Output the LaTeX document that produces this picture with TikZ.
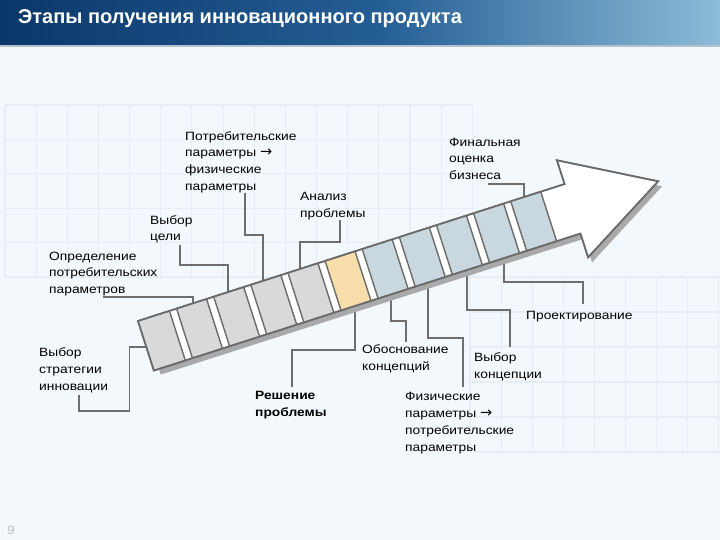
\documentclass[tikz,border=0pt]{standalone}
\usepackage{fontspec}
\setmainfont{Liberation Sans}
\newfontfamily\lblfont{Liberation Sans}[FakeStretch=1.15]
\newfontfamily\titlefont{Liberation Sans}
\newfontfamily\arrfont{DejaVu Sans}
\newcommand{\rarr}{{\arrfont\fontsize{14.5}{16.7}\selectfont →}}
\definecolor{bgc}{HTML}{F2F8FC}
\definecolor{gridc}{HTML}{E7EEF3}
\definecolor{outc}{HTML}{6B6B6B}
\definecolor{shadc}{HTML}{A9A9A9}
\definecolor{tgray}{HTML}{D9D9D9}
\definecolor{tyel}{HTML}{F8DEAA}
\definecolor{tblue}{HTML}{C8D8DE}
\definecolor{leadc}{HTML}{6E6E6E}
\definecolor{barA}{HTML}{0B376A}
\definecolor{barB}{HTML}{245E95}
\definecolor{barC}{HTML}{8DBCD8}
\definecolor{barline}{HTML}{B3C1CC}
\definecolor{pgnum}{HTML}{B4BCC4}
\begin{document}
\begin{tikzpicture}[x=1pt,y=-1pt,
  lbl/.style={anchor=north west,inner sep=0pt,align=left,text=black,
    font=\lblfont\fontsize{12}{16.7}\selectfont},
  leader/.style={draw=leadc,line width=1.6pt},
  tilebox/.style={draw=outc,line width=1.4pt,line join=round},
  gridline/.style={draw=gridc,line width=1.1pt}]
\useasboundingbox (0,0) rectangle (720,540);
\fill[bgc] (0,0) rectangle (720,540);
% grid
\foreach \i in {0,...,15} \draw[gridline] ({5+31.15*\i},105) -- ({5+31.15*\i},277);
\foreach \i in {0,...,5} \draw[gridline] (5,{105+34.4*\i}) -- (472,{105+34.4*\i});
\foreach \i in {0,...,8} \draw[gridline] ({470+31.1*\i},277) -- ({470+31.1*\i},452);
\foreach \i in {0,...,5} \draw[gridline] (470,{277+35*\i}) -- (720,{277+35*\i});
% title bar
\shade[left color=barA,right color=barB] (0,0) rectangle (380,45);
\shade[left color=barB,right color=barC] (379.5,0) rectangle (720,45);
\fill[barline] (0,45) rectangle (720,47.5);
\node[anchor=base west,inner sep=0pt,text=white,
  font=\titlefont\bfseries\fontsize{20}{22}\selectfont] (title) at (18,24)
  {Этапы получения инновационного продукта};
\node[anchor=base west,inner sep=0pt,text=pgnum,font=\lblfont\fontsize{12}{14}\selectfont] (pg) at (7,534) {9};
% attachment points on the band
\begin{scope}[shift={(138pt,-321pt)},x={(0.9521pt,0.3057pt)},y={(0.3057pt,-0.9521pt)}]
  \coordinate (a1) at (131.3,0);
  \coordinate (a2) at (170.2,0);
  \coordinate (a3) at (94.5,0);
  \coordinate (a4) at (57.8,0);
  \coordinate (a5) at (405.4,0);
  \coordinate (a6) at (367.7,52);
  \coordinate (a7) at (328.9,52);
  \coordinate (a8) at (287.9,52);
  \coordinate (a9) at (249.0,52);
  \coordinate (a10) at (211.1,52);
  \coordinate (a11) at (0,27);
\end{scope}
% labels
\node[lbl] (L1) at (185,130) {\rule{0pt}{10pt}Потребительские\\параметры \rarr\\физические\\параметры};
\node[lbl] (L2) at (300,190.5) {\rule{0pt}{10pt}Анализ\\проблемы};
\node[lbl] (L3) at (150,214) {\rule{0pt}{10pt}Выбор\\цели};
\node[lbl] (L4) at (49,250) {\rule{0pt}{10pt}Определение\\потребительских\\параметров};
\node[lbl] (L5) at (449,136) {\rule{0pt}{10pt}Финальная\\оценка\\бизнеса};
\node[lbl] (L6) at (526,309.3) {\rule{0pt}{10pt}Проектирование};
\node[lbl] (L7) at (474,351.7) {\rule{0pt}{10pt}Выбор\\концепции};
\node[lbl] (L8) at (405,390.7) {\rule{0pt}{10pt}Физические\\параметры \rarr\\потребительские\\параметры};
\node[lbl] (L9) at (362,343.3) {\rule{0pt}{10pt}Обоснование\\концепций};
\node[lbl,font=\lblfont\bfseries\fontsize{12}{16.7}\selectfont] (L10) at (255,389.3) {\rule{0pt}{10pt}Решение\\проблемы};
\node[lbl] (L11) at (39,346.7) {\rule{0pt}{10pt}Выбор\\стратегии\\инновации};
% leaders
\draw[leader] (245,193) -- (245,235) -| (a1);
\draw[leader] (340,220) -- (340,242) -| (a2);
\draw[leader] (180,245) -- (180,265) -| (a3);
\draw[leader] (103,297) -| (a4);
\draw[leader] (488,184) -| (a5);
\draw[leader] (582.7,304) -- (582.7,282) -| (a6);
\draw[leader] (510,347) -- (510,310) -| (a7);
\draw[leader] (463,387) -- (463,338) -| (a8);
\draw[leader] (406,342) -- (406,321) -| (a9);
\draw[leader] (291.7,387) -- (291.7,350) -| (a10);
\draw[leader] (79,395) -- (79,410.7) -- (129.3,410.7) |- (a11);
% arrow
\begin{scope}[shift={(138pt,-321pt)},x={(0.9521pt,0.3057pt)},y={(0.3057pt,-0.9521pt)}]
  \fill[shadc,shift={(4pt,-5pt)}] (3,0) -- (448,0) -- (448,-25) -- (538,26) -- (448,77) -- (448,52) -- (3,52) -- cycle;
  \draw[fill=white,draw=outc,line width=1.6pt,line join=miter] (0,0) -- (448,0) -- (448,-25) -- (538,26) -- (448,77) -- (448,52) -- (0,52) -- cycle;
  \foreach \a/\b/\c in {0/33/tgray,40.5/72/tgray,79.5/111/tgray,118.5/150/tgray,157.5/189/tgray,196.5/228/tyel,235.5/267/tblue,274.5/306/tblue,313.5/345/tblue,352.5/384/tblue,391.5/423/tblue}
    \draw[tilebox,fill=\c] (\a,0) -- (\b,0) -- (\b,52) -- (\a,52) -- cycle;
  \draw[draw=outc,line width=1.6pt,line join=miter] (0,0) -- (448,0) -- (448,-25) -- (538,26) -- (448,77) -- (448,52) -- (0,52) -- cycle;
\end{scope}
\end{tikzpicture}
\end{document}
